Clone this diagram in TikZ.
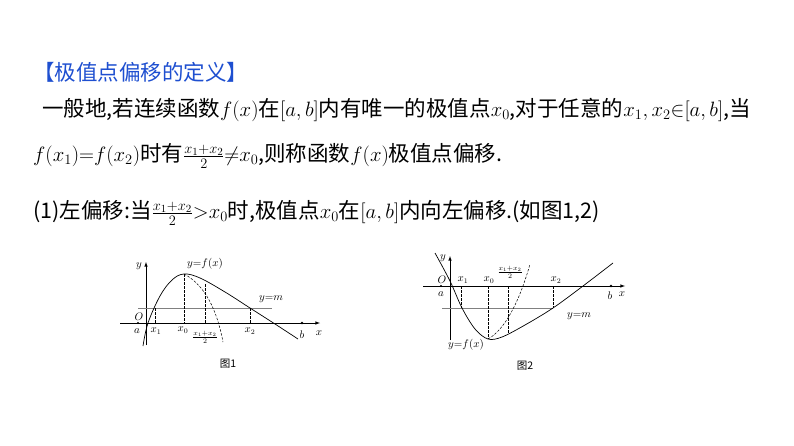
\documentclass[tikz,border=0pt]{standalone}
\usepackage{fontspec}
\setmainfont{Noto Sans CJK SC}
\definecolor{hblue}{HTML}{1E4FD0}
\begin{document}
\begin{tikzpicture}[x=1pt,y=-1pt,
  txt/.style={anchor=west,inner sep=0pt,font=\fontsize{21.5}{25}\selectfont},
  lab/.style={inner sep=0pt,font=\fontsize{10.5}{12}\selectfont},
  ax/.style={line width=0.6pt,-latex},
  curve/.style={line width=0.7pt},
  dsh/.style={dashed,line width=0.5pt,dash pattern=on 2.5pt off 1.5pt},
  mline/.style={line width=0.8pt,gray}]
\useasboundingbox (0,0) rectangle (794,446);
\node[txt,text=hblue] (h) at (33,72) {【极值点偏移的定义】};
\node[txt] (l1) at (42,110) {一般地,若连续函数$f(x)$在$[a,b]$内有唯一的极值点$x_0$,对于任意的$x_1,x_2{\in}[a,b]$,当};
\node[txt] (l2) at (33,156) {$f(x_1){=}f(x_2)$时有$\frac{x_1+x_2}{2}{\neq}x_0$,则称函数$f(x)$极值点偏移.};
\node[txt] (l3) at (33,213) {(1)左偏移:当$\frac{x_1+x_2}{2}{>}x_0$时,极值点$x_0$在$[a,b]$内向左偏移.(如图1,2)};
% figure 1
\draw[ax] (120,323) -- (320,323);
\draw[ax] (146,345) -- (146,262);
\draw[mline] (138,308) -- (272,308);
\draw[curve] plot[smooth,tension=0.6] coordinates {(143,346) (148,323) (160,296) (172,280) (184,274) (200,278) (225,292) (250,308) (275,324) (298,339)};
\draw[dsh] (155,308) -- (155,323);
\draw[dsh] (184,274) -- (184,323);
\draw[dsh] (205,284) -- (205,323);
\draw[dsh] (250,308) -- (250,323);
\draw[dsh] (184,274) .. controls (205,285) and (217,310) .. (223,342);
\fill (302,323) circle (1.4);
\fill (138,323) circle (1.2);
\node[lab] (f1y) at (139,266) {$y$};
\node[lab] (f1f) at (205,264) {$y{=}f(x)$};
\node[lab] (f1m) at (271,299) {$y{=}m$};
\node[lab] (f1o) at (139,317) {$O$};
\node[lab] (f1a) at (137,331) {$a$};
\node[lab] (f1x1) at (156,331) {$x_1$};
\node[lab] (f1x0) at (183,330) {$x_0$};
\node[lab] (f1fr) at (205,337) {$\frac{x_1+x_2}{2}$};
\node[lab] (f1x2) at (250,331) {$x_2$};
\node[lab] (f1b) at (302,335) {$b$};
\node[lab] (f1x) at (319,333) {$x$};
\node[lab] (f1c) at (228,364) {图1};
% figure 2
\draw[ax] (423,286) -- (625,286);
\draw[ax] (450,340) -- (450,256);
\draw[mline] (442,308) -- (553,308);
\draw[curve] plot[smooth,tension=0.55] coordinates {(435,253) (450,281) (462,308) (475,329) (488,339) (502,337) (525,325) (553,308) (583,286) (613,263)};
\draw[dsh] (461,286) -- (461,308);
\draw[dsh] (488,286) -- (488,339);
\draw[dsh] (508,286) -- (508,334);
\draw[dsh] (553,286) -- (553,308);
\draw[dsh] (488,339) .. controls (505,330) and (520,300) .. (530,264);
\fill (611,286) circle (1.4);
\fill (441,286) circle (1.2);
\node[lab] (f2y) at (443,258) {$y$};
\node[lab] (f2o) at (442,280) {$O$};
\node[lab] (f2a) at (441,294) {$a$};
\node[lab] (f2x1) at (463,280) {$x_1$};
\node[lab] (f2x0) at (489,280) {$x_0$};
\node[lab] (f2fr) at (510,272) {$\frac{x_1+x_2}{2}$};
\node[lab] (f2x2) at (556,280) {$x_2$};
\node[lab] (f2b) at (610,296) {$b$};
\node[lab] (f2x) at (622,294) {$x$};
\node[lab] (f2m) at (579,316) {$y{=}m$};
\node[lab] (f2f) at (466,345) {$y{=}f(x)$};
\node[lab] (f2c) at (525,366) {图2};
\end{tikzpicture}
\end{document}
